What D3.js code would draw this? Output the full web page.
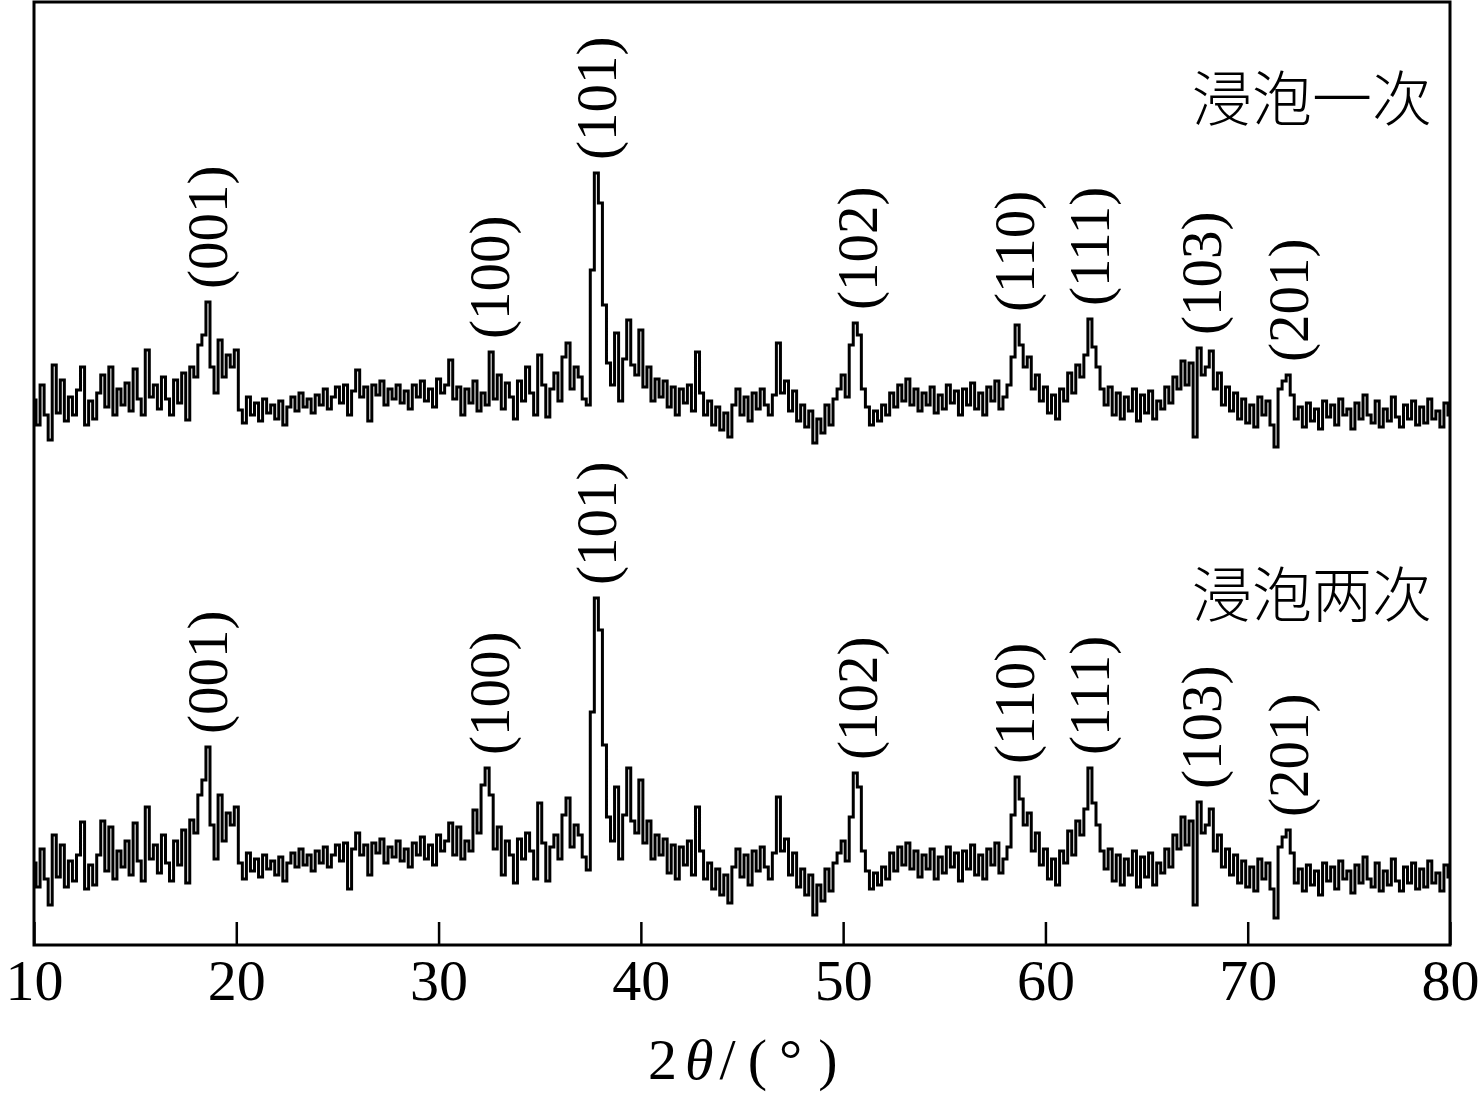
<!DOCTYPE html>
<html>
<head>
<meta charset="utf-8">
<script src="https://cdn.jsdelivr.net/npm/d3@7"></script>
<style>
  html, body { margin: 0; padding: 0; background: #fff; }
  svg { display: block; }
</style>
</head>
<body>
<svg id="chart" width="1482" height="1095"></svg>
<script>
// ---- data ----
const angleStart = 10, angleEnd = 80, angleStep = 0.2;   // 2θ sampling grid (°)
const xTicks = [10, 20, 30, 40, 50, 60, 70, 80];
const seriesNames = ["浸泡一次", "浸泡两次"];
const seriesOffsets = [460, 0];   // vertical stacking offset (a.u.)

// 浸泡一次 intensity (a.u.), 10°–80° every 0.2°
const soakOnce = [
  85, 60, 100, 70, 45, 120, 72, 105, 64, 88,
  70, 95, 118, 60, 84, 66, 92, 110, 78, 118,
  70, 96, 80, 102, 74, 116, 86, 70, 135, 88,
  100, 76, 108, 86, 70, 105, 82, 112, 65, 118,
  108, 140, 150, 183, 118, 92, 145, 108, 130, 118,
  135, 75, 62, 88, 70, 82, 64, 86, 72, 80,
  66, 84, 60, 78, 88, 74, 92, 78, 86, 72,
  90, 80, 96, 76, 88, 98, 82, 100, 70, 94,
  115, 88, 98, 64, 100, 90, 104, 80, 96, 86,
  100, 82, 94, 76, 100, 88, 104, 84, 96, 78,
  106, 92, 100, 125, 86, 98, 70, 96, 82, 104,
  74, 92, 80, 133, 86, 110, 76, 102, 88, 66,
  104, 84, 118, 92, 70, 130, 100, 68, 96, 112,
  84, 128, 142, 96, 118, 108, 86, 80, 215, 312,
  282, 180, 122, 100, 152, 84, 126, 165, 120, 110,
  155, 98, 118, 84, 106, 88, 104, 78, 98, 70,
  96, 82, 100, 74, 133, 92, 70, 84, 60, 78,
  55, 72, 48, 80, 96, 70, 88, 64, 92, 76,
  96, 80, 70, 90, 142, 92, 104, 74, 94, 64,
  80, 58, 74, 42, 66, 52, 80, 60, 86, 96,
  110, 88, 140, 162, 150, 96, 78, 60, 74, 64,
  80, 70, 92, 78, 100, 84, 106, 80, 96, 74,
  92, 80, 98, 72, 90, 76, 100, 82, 94, 70,
  96, 80, 102, 76, 92, 70, 98, 84, 104, 76,
  88, 100, 128, 160, 140, 118, 128, 96, 110, 84,
  98, 72, 90, 66, 96, 84, 112, 92, 120, 108,
  130, 166, 138, 118, 96, 80, 98, 70, 92, 66,
  88, 74, 96, 64, 90, 72, 94, 66, 84, 76,
  98, 82, 108, 96, 124, 100, 122, 48, 137, 110,
  118, 134, 96, 112, 80, 98, 74, 92, 66, 86,
  62, 80, 58, 88, 70, 84, 60, 38, 96, 104,
  110, 90, 66, 78, 58, 82, 64, 76, 56, 84,
  68, 80, 60, 86, 70, 76, 56, 82, 66, 90,
  70, 62, 84, 58, 76, 64, 88, 68, 58, 80,
  66, 84, 60, 78, 62, 86, 66, 74, 58, 82,
  70
];

// 浸泡两次 intensity (a.u.), 10°–80° every 0.2°
const soakTwice = [
  82, 58, 96, 66, 40, 110, 68, 100, 58, 84,
  64, 90, 123, 56, 80, 60, 90, 124, 74, 118,
  66, 94, 78, 104, 70, 122, 84, 64, 138, 86,
  100, 72, 110, 82, 64, 104, 80, 115, 62, 125,
  112, 150, 165, 198, 120, 86, 150, 104, 132, 120,
  138, 82, 66, 92, 74, 86, 68, 90, 76, 84,
  70, 88, 64, 82, 92, 78, 96, 80, 90, 74,
  94, 82, 98, 78, 90, 100, 84, 102, 56, 96,
  112, 90, 100, 70, 102, 92, 106, 82, 98, 88,
  104, 84, 96, 78, 102, 90, 108, 86, 100, 80,
  110, 94, 104, 122, 90, 118, 86, 104, 94, 135,
  112, 160, 177, 150, 96, 118, 70, 104, 90, 62,
  106, 86, 112, 94, 66, 142, 102, 64, 98, 110,
  86, 130, 147, 98, 120, 110, 88, 75, 233, 347,
  315, 200, 128, 104, 158, 86, 130, 177, 124, 112,
  165, 102, 124, 86, 110, 90, 106, 72, 100, 66,
  98, 80, 104, 70, 138, 94, 66, 82, 56, 76,
  50, 70, 42, 78, 96, 68, 90, 60, 94, 74,
  98, 78, 66, 92, 148, 94, 106, 70, 92, 58,
  76, 50, 70, 30, 60, 44, 76, 54, 82, 92,
  104, 84, 128, 172, 158, 94, 74, 56, 72, 60,
  78, 66, 92, 74, 98, 80, 102, 76, 94, 68,
  90, 76, 96, 66, 88, 72, 98, 78, 92, 64,
  94, 76, 100, 70, 90, 66, 96, 80, 102, 72,
  86, 98, 130, 168, 146, 120, 132, 94, 112, 80,
  96, 66, 86, 60, 94, 82, 114, 90, 124, 110,
  136, 177, 142, 120, 94, 76, 96, 64, 90, 60,
  86, 70, 94, 58, 88, 68, 92, 60, 82, 72,
  96, 78, 110, 96, 128, 100, 124, 40, 143, 112,
  120, 136, 94, 110, 78, 96, 70, 90, 62, 84,
  58, 78, 54, 86, 66, 82, 56, 27, 98, 108,
  115, 92, 62, 76, 54, 80, 60, 74, 50, 82,
  64, 78, 56, 84, 66, 74, 52, 80, 62, 88,
  66, 58, 82, 54, 74, 60, 86, 64, 54, 78,
  62, 82, 56, 76, 58, 84, 62, 72, 54, 80,
  68
];

const peakLabels = ["(001)", "(100)", "(101)", "(102)", "(110)", "(111)", "(103)", "(201)"];
const peakAngles = [18.6, 32.5, 37.8, 50.7, 58.5, 62.2, 67.7, 72.0];

// ---- chart ----
const SERIF = '"Liberation Serif", "Times New Roman", serif';
const CJK = '"Noto Sans CJK SC", sans-serif';
const svg = d3.select("#chart");
const mLeft = 34, mRight = 1450, mTop = 2, mBottom = 945;

const x = d3.scaleLinear().domain([angleStart, angleEnd]).range([mLeft, mRight]);
const y = d3.scaleLinear().domain([0, mBottom - mTop]).range([mBottom, mTop]);

const angles = d3.range(angleStart, angleEnd + angleStep / 2, angleStep);
const series = [soakOnce, soakTwice].map((vals, i) => ({
  name: seriesNames[i],
  offset: seriesOffsets[i],
  points: vals.map((v, j) => ({ a: angles[j], v: v + seriesOffsets[i] }))
}));

const line = d3.line()
  .x(d => x(d.a))
  .y(d => y(d.v))
  .curve(d3.curveStep);

const plot = svg.append("g");

series.forEach(s => {
  plot.append("path")
    .datum(s.points)
    .attr("fill", "none")
    .attr("stroke", "#000")
    .attr("stroke-width", 3)
    .attr("stroke-linejoin", "miter")
    .attr("d", line);

  peakLabels.forEach((lab, k) => {
    const a = peakAngles[k];
    const near = s.points.filter(p => Math.abs(p.a - a) <= 0.31);
    const vmax = d3.max(near, p => p.v);
    const px = x(a), py = y(vmax) - 13;
    plot.append("text")
      .attr("transform", `translate(${px},${py}) rotate(-90)`)
      .attr("text-anchor", "start")
      .attr("dy", "0.34em")
      .style("font-family", SERIF)
      .style("font-size", "57px")
      .attr("fill", "#000")
      .text(lab);
  });
});

// series names
[121, 617].forEach((ty, i) => {
  svg.append("text")
    .attr("x", 1432).attr("y", ty)
    .attr("text-anchor", "end")
    .style("font-family", CJK)
    .style("font-size", "60px")
    .style("font-weight", 300)
    .attr("fill", "#000")
    .text(seriesNames[i]);
});

// frame
svg.append("rect")
  .attr("x", mLeft).attr("y", mTop)
  .attr("width", mRight - mLeft).attr("height", mBottom - mTop)
  .attr("fill", "none").attr("stroke", "#000").attr("stroke-width", 3);

// x axis
const xAxis = d3.axisBottom(x)
  .tickValues(xTicks)
  .tickSize(-23)
  .tickPadding(14)
  .tickFormat(d3.format("d"));
const gx = svg.append("g")
  .attr("transform", `translate(0,${mBottom})`)
  .call(xAxis);
gx.select(".domain").remove();
gx.selectAll(".tick line").attr("stroke", "#000").attr("stroke-width", 2.5);
gx.selectAll(".tick text")
  .style("font-family", SERIF)
  .style("font-size", "58px")
  .attr("fill", "#000");

// axis title 2θ/(°)
const title = svg.append("text")
  .attr("x", 648).attr("y", 1079)
  .attr("text-anchor", "start")
  .style("font-family", SERIF)
  .style("font-size", "58px")
  .attr("fill", "#000");
title.append("tspan").text("2");
title.append("tspan").attr("dx", 8).style("font-style", "italic").text("θ");
title.append("tspan").attr("dx", 6).text("/");
title.append("tspan").attr("dx", 12).text("(");
title.append("tspan").attr("dx", 12).text("°");
title.append("tspan").attr("dx", 16).text(")");
</script>
</body>
</html>
